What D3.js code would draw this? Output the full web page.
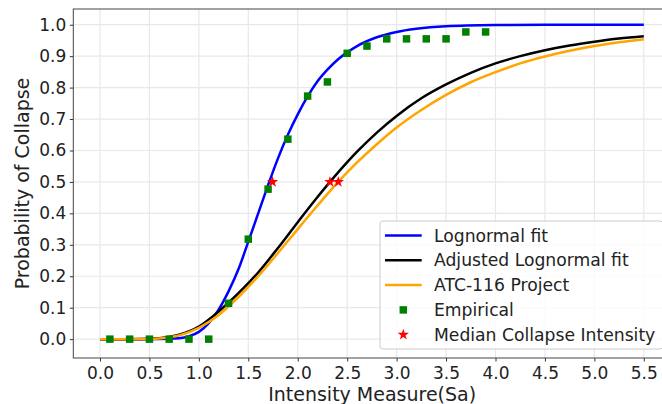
<!DOCTYPE html>
<html>
<head>
<meta charset="utf-8">
<script src="https://cdn.jsdelivr.net/npm/d3@7"></script>
<style>
  body { margin: 0; background: #fff; }
  text { font-family: "DejaVu Sans", sans-serif; }
</style>
</head>
<body>
<script>
// values
var xTicks = [0, 0.5, 1, 1.5, 2, 2.5, 3, 3.5, 4, 4.5, 5, 5.5];
var yTicks = [0, 0.1, 0.2, 0.3, 0.4, 0.5, 0.6, 0.7, 0.8, 0.9, 1.0];

var empX = [0.1, 0.3, 0.5, 0.7, 0.9, 1.1, 1.3, 1.5, 1.7, 1.9, 2.1, 2.3, 2.5, 2.7, 2.9, 3.1, 3.3, 3.5, 3.7, 3.9];
var empY = [0, 0, 0, 0, 0, 0, 0.114, 0.318, 0.477, 0.636, 0.773, 0.818, 0.909, 0.932, 0.955, 0.955, 0.955, 0.955, 0.977, 0.977];

var fitX = [0, 0.4, 0.6, 0.8, 0.9, 1.0, 1.1, 1.2, 1.3, 1.4, 1.5, 1.6, 1.7, 1.8, 1.9, 2.0, 2.1, 2.2, 2.3, 2.4, 2.5, 2.6, 2.8, 3.0, 3.2, 3.5, 4.0, 4.5, 5.0, 5.5];
var fitY = [0, 0, 0.0003, 0.003, 0.009, 0.023, 0.051, 0.094, 0.152, 0.222, 0.31, 0.40, 0.49, 0.575, 0.65, 0.715, 0.772, 0.82, 0.857, 0.888, 0.912, 0.932, 0.96, 0.977, 0.987, 0.995, 0.999, 1.0, 1.0, 1.0];

var adjX = [0, 0.2, 0.4, 0.6, 0.8, 1.0, 1.2, 1.4, 1.6, 1.8, 2.0, 2.2, 2.4, 2.6, 2.8, 3.0, 3.25, 3.5, 3.75, 4.0, 4.25, 4.5, 4.75, 5.0, 5.25, 5.5];
var adjY = [0, 0, 0.0002, 0.003, 0.014, 0.040, 0.088, 0.146, 0.212, 0.29, 0.372, 0.452, 0.527, 0.596, 0.657, 0.71, 0.766, 0.81, 0.847, 0.877, 0.9, 0.919, 0.934, 0.946, 0.956, 0.963];

var atcX = [0, 0.2, 0.4, 0.6, 0.8, 1.0, 1.2, 1.4, 1.6, 1.8, 2.0, 2.2, 2.4, 2.6, 2.8, 3.0, 3.25, 3.5, 3.75, 4.0, 4.25, 4.5, 4.75, 5.0, 5.25, 5.5];
var atcY = [0, 0, 0.0001, 0.0023, 0.012, 0.036, 0.077, 0.134, 0.2, 0.274, 0.35, 0.425, 0.497, 0.562, 0.62, 0.673, 0.729, 0.777, 0.817, 0.849, 0.877, 0.899, 0.917, 0.932, 0.944, 0.954];

var medianX = [1.745, 2.326, 2.41];
var medianY = [0.5, 0.5, 0.5];

var legendLabels = ["Lognormal fit", "Adjusted Lognormal fit", "ATC-116 Project", "Empirical", "Median Collapse Intensity"];

var W = 662, H = 404;
var margin = {top: 9, left: 73.3};
var width = 597.7;   // right spine falls outside the picture
var height = 349;

var svg = d3.select("body")
    .append("svg")
    .attr("width", W)
    .attr("height", H);

var g = svg.append("g")
    .attr("transform", "translate(" + margin.left + ", " + margin.top + ")");

var x = d3.scaleLinear()
    .domain([-0.27, 5.775])
    .range([0, width]);

var y = d3.scaleLinear()
    .domain([-0.06, 1.05])
    .range([height, 0]);

// grid
g.append("g").selectAll("line.gx")
    .data(xTicks).enter()
    .append("line")
    .attr("x1", (d) => x(d)).attr("x2", (d) => x(d))
    .attr("y1", 0).attr("y2", height)
    .attr("stroke", "#e8e8e8").attr("stroke-width", 1.2);
g.append("g").selectAll("line.gy")
    .data(yTicks).enter()
    .append("line")
    .attr("y1", (d) => y(d)).attr("y2", (d) => y(d))
    .attr("x1", 0).attr("x2", width)
    .attr("stroke", "#e8e8e8").attr("stroke-width", 1.2);

// curves
var line = d3.line()
    .x((d) => x(d[0]))
    .y((d) => y(d[1]))
    .curve(d3.curveMonotoneX);

var curves = [
    {xs: fitX, ys: fitY, color: "#0000ff"},
    {xs: adjX, ys: adjY, color: "#000000"},
    {xs: atcX, ys: atcY, color: "#ffa500"}
];
curves.forEach((c) => {
    g.append("path")
        .datum(c.xs.map((v, i) => [v, c.ys[i]]))
        .attr("d", line)
        .attr("fill", "none")
        .attr("stroke", c.color)
        .attr("stroke-width", 2.5);
});

// empirical points
g.selectAll("path.emp")
    .data(empX).enter()
    .append("path")
    .attr("d", d3.symbol().type(d3.symbolSquare).size(56))
    .attr("transform", (d, i) => "translate(" + x(d) + "," + y(empY[i]) + ")")
    .attr("fill", "#008000");

// median stars
g.selectAll("path.med")
    .data(medianX).enter()
    .append("path")
    .attr("d", d3.symbol().type(d3.symbolStar).size(40))
    .attr("transform", (d, i) => "translate(" + x(d) + "," + y(medianY[i]) + ")")
    .attr("fill", "#ff0000");

// axes
var bottomAxis = d3.axisBottom(x)
    .tickValues(xTicks)
    .tickSize(3.5)
    .tickPadding(5)
    .tickFormat(d3.format(".1f"));
var ax = g.append("g")
    .attr("transform", "translate(0, " + height + ")")
    .call(bottomAxis);

var leftAxis = d3.axisLeft(y)
    .tickValues(yTicks)
    .tickSize(3.5)
    .tickPadding(3.5)
    .tickFormat(d3.format(".1f"));
var ay = g.append("g").call(leftAxis);

[ax, ay].forEach((a) => {
    a.select(".domain").remove();
    a.selectAll("line").attr("stroke", "#333");
    a.selectAll("text")
        .attr("font-family", "DejaVu Sans")
        .attr("font-size", "17px")
        .attr("fill", "#222");
});

// frame
g.append("rect")
    .attr("x", 0).attr("y", 0)
    .attr("width", width).attr("height", height)
    .attr("fill", "none")
    .attr("stroke", "#444")
    .attr("stroke-width", 1);

// axis labels
svg.append("text")
    .attr("x", margin.left + width / 2)
    .attr("y", 401)
    .attr("text-anchor", "middle")
    .attr("font-size", "19px")
    .attr("fill", "#222")
    .text("Intensity Measure(Sa)");

svg.append("text")
    .attr("transform", "translate(28.5, " + (margin.top + height / 2) + ") rotate(-90)")
    .attr("text-anchor", "middle")
    .attr("font-size", "19px")
    .attr("fill", "#222")
    .text("Probability of Collapse");

// legend
var lg = svg.append("g");
lg.append("rect")
    .attr("x", 380).attr("y", 221)
    .attr("width", 283).attr("height", 128)
    .attr("rx", 3)
    .attr("fill", "#fff").attr("fill-opacity", 0.8)
    .attr("stroke", "#cccccc");

var rowY = (i) => 235.5 + i * 24.8;
curves.forEach((c, i) => {
    lg.append("line")
        .attr("x1", 385).attr("x2", 421.7)
        .attr("y1", rowY(i)).attr("y2", rowY(i))
        .attr("stroke", c.color).attr("stroke-width", 2.5);
});
lg.append("path")
    .attr("d", d3.symbol().type(d3.symbolSquare).size(56))
    .attr("transform", "translate(403.3," + rowY(3) + ")")
    .attr("fill", "#008000");
lg.append("path")
    .attr("d", d3.symbol().type(d3.symbolStar).size(40))
    .attr("transform", "translate(403.3," + rowY(4) + ")")
    .attr("fill", "#ff0000");

lg.selectAll("text")
    .data(legendLabels).enter()
    .append("text")
    .attr("x", 434)
    .attr("y", (d, i) => rowY(i))
    .attr("dy", "0.35em")
    .attr("font-size", "17.2px")
    .attr("fill", "#222")
    .text((d) => d);
</script>
</body>
</html>
